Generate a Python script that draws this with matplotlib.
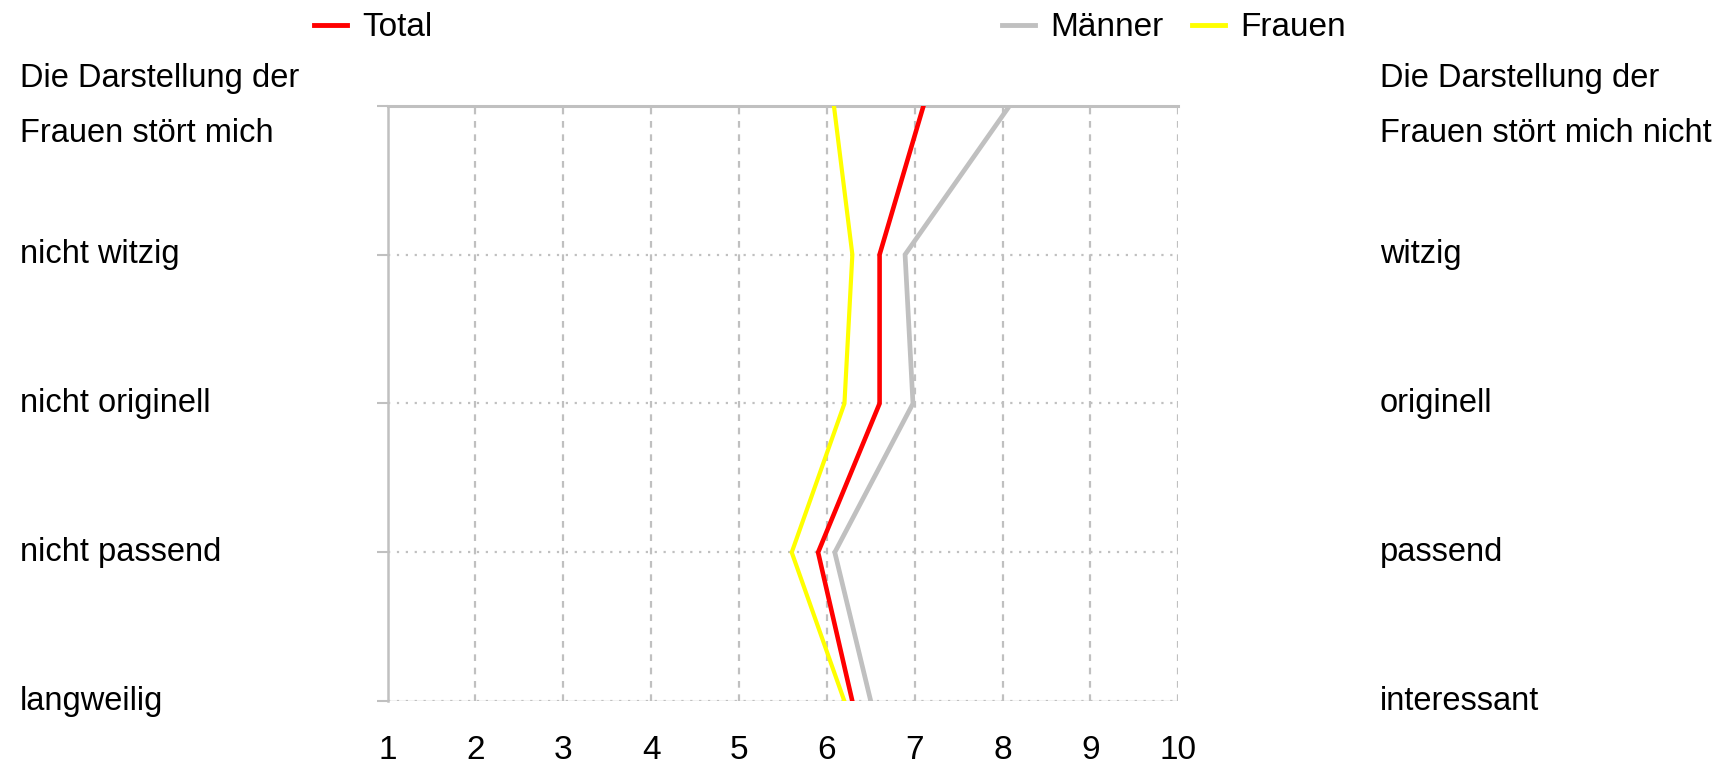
import matplotlib
matplotlib.use("Agg")
import matplotlib.pyplot as plt
from matplotlib.lines import Line2D
from matplotlib.transforms import blended_transform_factory

# semantic differential, rows from top to bottom
left_labels = ["Die Darstellung der\nFrauen stört mich", "nicht witzig", "nicht originell",
               "nicht passend", "langweilig"]
right_labels = ["Die Darstellung der\nFrauen stört mich nicht", "witzig", "originell",
                "passend", "interessant"]

total = [7.10, 6.60, 6.60, 5.90, 6.29]
maenner = [8.08, 6.89, 6.98, 6.09, 6.50]
frauen = [6.08, 6.29, 6.20, 5.60, 6.20]

scale = list(range(1, 11))

GRID = "#c0c0c0"
FONT = ["Liberation Sans", "DejaVu Sans"]

fig = plt.figure(figsize=(17.32, 7.65), dpi=100)
ax = fig.add_axes([0.2238, 0.0833, 0.6803 - 0.2238, 0.8618 - 0.0833])

rows = list(range(len(left_labels)))
ax.set_xlim(1, 10)
ax.set_ylim(len(rows) - 1, 0)

# grid: dashed verticals, dotted horizontals
for x in scale[1:]:
    ax.axvline(x, color=GRID, lw=1.6, ls=(0, (3, 3)), zorder=1)
for y in rows[1:]:
    ax.axhline(y, color=GRID, lw=1.6, ls=(0, (1, 3)), zorder=1)

for side in ["right", "bottom"]:
    ax.spines[side].set_visible(False)
ax.spines["left"].set_color(GRID)
ax.spines["left"].set_linewidth(1.8)
ax.spines["top"].set_color(GRID)
ax.spines["top"].set_linewidth(2.2)
ax.axhline(rows[-1], color=GRID, lw=1.0, zorder=1)

ax.plot(total, rows, color="#ff0000", lw=3.3, zorder=4, solid_joinstyle="miter")
ax.plot(maenner, rows, color="#c0c0c0", lw=3.4, zorder=3, solid_joinstyle="miter")
ax.plot(frauen, rows, color="#ffff00", lw=3.0, zorder=3, solid_joinstyle="miter")

ax.set_yticks(rows)
ax.set_yticklabels([])
ax.tick_params(axis="y", length=8, width=1.5, color=GRID)
ax.set_xticks(scale)
ax.set_xticklabels([str(v) for v in scale], fontsize=24, family=FONT)
ax.tick_params(axis="x", length=0, pad=24)

# row labels on both sides
trans = blended_transform_factory(fig.transFigure, ax.transData)
for y, lab in zip(rows, left_labels):
    ax.text(20 / 1732, y, lab, transform=trans, ha="left", va="center",
            fontsize=23.5, family=FONT, linespacing=2.0)
for y, lab in zip(rows, right_labels):
    ax.text(1380 / 1732, y, lab, transform=trans, ha="left", va="center",
            fontsize=23.5, family=FONT, linespacing=2.0)

# legend split in two groups
h_total = Line2D([], [], color="#ff0000", lw=3.5)
h_m = Line2D([], [], color="#c0c0c0", lw=3.5)
h_f = Line2D([], [], color="#ffff00", lw=3.5)
leg_kw = dict(frameon=False, handlelength=1.0, handletextpad=0.45,
              prop={"family": FONT, "size": 24}, borderpad=0, borderaxespad=0)
fig.legend([h_total], ["Total"], loc="center left",
           bbox_to_anchor=(314 / 1732, 1 - 28 / 765), **leg_kw)
fig.legend([h_m, h_f], ["Männer", "Frauen"], loc="center left", ncol=2, columnspacing=0.85,
           bbox_to_anchor=(1002 / 1732, 1 - 28 / 765), **leg_kw)

fig.savefig("out.png", dpi=100)
